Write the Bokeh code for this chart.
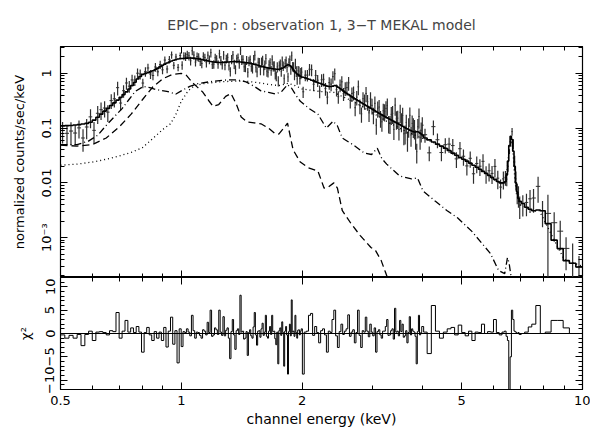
import math
from bokeh.plotting import figure
from bokeh.models import FixedTicker, LogAxis, LinearAxis, Range1d, Span, ColumnDataSource
from bokeh.layouts import column
from bokeh.embed import file_html
from bokeh.resources import INLINE

FONT = "DejaVu Sans"

# ---------------- channel energies (keV), by segment ----------------
E_A = [0.506, 0.519, 0.531, 0.544, 0.556, 0.569, 0.581, 0.594, 0.606, 0.619, 0.631, 0.644, 0.656, 0.669, 0.681, 0.694]
E_B = [0.706, 0.718, 0.730, 0.742, 0.754, 0.766, 0.778, 0.790, 0.802, 0.814, 0.826, 0.838, 0.850, 0.862, 0.874,
       0.886, 0.898, 0.910, 0.922, 0.934, 0.946, 0.958, 0.970, 0.982, 0.994]
E_C = [1.005, 1.015, 1.025, 1.035, 1.045, 1.055, 1.065, 1.075, 1.085, 1.095,
       1.105, 1.115, 1.125, 1.135, 1.145, 1.155, 1.165, 1.175, 1.185, 1.195,
       1.205, 1.215, 1.225, 1.235, 1.245, 1.255, 1.265, 1.275, 1.285, 1.295,
       1.305, 1.315, 1.325, 1.335, 1.345, 1.355, 1.365, 1.375, 1.385, 1.395,
       1.405, 1.415, 1.425, 1.435, 1.445, 1.455, 1.465, 1.475, 1.485, 1.495,
       1.505, 1.515, 1.525, 1.535, 1.545, 1.555, 1.565, 1.575, 1.585, 1.595,
       1.605, 1.615, 1.625, 1.635, 1.645, 1.655, 1.665, 1.675, 1.685, 1.695,
       1.705, 1.715, 1.725, 1.735, 1.745, 1.755, 1.765, 1.775, 1.785, 1.795,
       1.805, 1.815, 1.825, 1.835, 1.845, 1.855, 1.865, 1.875, 1.885, 1.895,
       1.905, 1.915, 1.925, 1.935, 1.945, 1.955, 1.965, 1.975, 1.985, 1.995]
E_D = [2.0125, 2.0375, 2.0625, 2.0875, 2.1125, 2.1375, 2.1625, 2.1875, 2.2125, 2.2375,
       2.2625, 2.2875, 2.3125, 2.3375, 2.3625, 2.3875, 2.4125, 2.4375, 2.4625, 2.4875,
       2.5125, 2.5375, 2.5625, 2.5875, 2.6125, 2.6375, 2.6625, 2.6875, 2.7125, 2.7375,
       2.7625, 2.7875, 2.8125, 2.8375, 2.8625, 2.8875, 2.9125, 2.9375, 2.9625, 2.9875,
       3.0125, 3.0375, 3.0625, 3.0875, 3.1125, 3.1375, 3.1625, 3.1875, 3.2125, 3.2375,
       3.2625, 3.2875, 3.3125, 3.3375, 3.3625, 3.3875, 3.4125, 3.4375, 3.4625, 3.4875,
       3.5125, 3.5375, 3.5625, 3.5875, 3.6125, 3.6375, 3.6625, 3.6875, 3.7125, 3.7375,
       3.7625, 3.7875, 3.8125, 3.8375, 3.8625, 3.8875, 3.9125, 3.9375, 3.9625, 3.9875]
E_E = [4.05, 4.15, 4.25, 4.35, 4.45, 4.55, 4.65, 4.75, 4.85, 4.95, 5.05, 5.15, 5.25, 5.35, 5.45, 5.55, 5.65, 5.75,
       5.85, 5.95, 6.05, 6.15, 6.25, 6.35]
E_F = [6.425, 6.475, 6.525, 6.575, 6.625, 6.675, 6.725, 6.775, 6.825, 6.875, 6.925, 6.975]
E_G = [7.1, 7.25, 7.4, 7.55, 7.75, 7.95, 8.2, 8.5, 8.8, 9.1, 9.45, 9.8]

# ---------------- total model (normalized counts/sec/keV) per channel ----------------
M_A = [0.110, 0.111, 0.112, 0.114, 0.116, 0.119, 0.122, 0.128, 0.140, 0.158, 0.180, 0.205, 0.230, 0.260, 0.290, 0.325]
M_B = [0.365, 0.41, 0.46, 0.52, 0.60, 0.69, 0.79, 0.88, 0.96, 1.00, 1.03, 1.07, 1.12, 1.18, 1.25, 1.33, 1.41, 1.48,
       1.55, 1.62, 1.68, 1.74, 1.79, 1.83, 1.86]
M_C = [1.87, 1.89, 1.90, 1.90, 1.91, 1.91, 1.90, 1.90, 1.88, 1.86,
       1.84, 1.82, 1.79, 1.77, 1.74, 1.72, 1.69, 1.67, 1.65, 1.63,
       1.62, 1.61, 1.60, 1.59, 1.58, 1.58, 1.59, 1.59, 1.60, 1.61,
       1.62, 1.62, 1.63, 1.63, 1.64, 1.64, 1.64, 1.64, 1.63, 1.63,
       1.62, 1.61, 1.60, 1.59, 1.58, 1.57, 1.56, 1.55, 1.53, 1.52,
       1.50, 1.48, 1.46, 1.44, 1.42, 1.40, 1.38, 1.36, 1.34, 1.33,
       1.31, 1.30, 1.28, 1.27, 1.26, 1.25, 1.24, 1.23, 1.22, 1.21,
       1.20, 1.20, 1.19, 1.19, 1.19, 1.19, 1.20, 1.22, 1.24, 1.27,
       1.30, 1.34, 1.38, 1.41, 1.44, 1.43, 1.40, 1.35, 1.29, 1.22,
       1.16, 1.10, 1.05, 1.01, 0.97, 0.95, 0.92, 0.90, 0.88, 0.86]
M_D = [0.85, 0.83, 0.80, 0.78, 0.75, 0.73, 0.70, 0.68, 0.66, 0.64,
       0.62, 0.60, 0.585, 0.575, 0.575, 0.585, 0.60, 0.59, 0.56, 0.53,
       0.50, 0.475, 0.45, 0.43, 0.41, 0.39, 0.373, 0.357, 0.342, 0.328,
       0.316, 0.304, 0.291, 0.279, 0.270, 0.260, 0.250, 0.240, 0.232, 0.224,
       0.216, 0.208, 0.200, 0.193, 0.187, 0.181, 0.175, 0.169, 0.164, 0.159,
       0.154, 0.149, 0.145, 0.141, 0.137, 0.133, 0.129, 0.125, 0.122, 0.118,
       0.115, 0.111, 0.108, 0.105, 0.102, 0.099, 0.097, 0.094, 0.092, 0.090,
       0.088, 0.086, 0.085, 0.085, 0.086, 0.086, 0.084, 0.081, 0.078, 0.075]
M_E = [0.066, 0.061, 0.056, 0.051, 0.047, 0.043, 0.039, 0.035, 0.032, 0.029, 0.027, 0.025, 0.023, 0.021, 0.0193,
       0.0177, 0.0162, 0.0149, 0.0137, 0.0126, 0.0116, 0.0106, 0.0100, 0.0100]
M_F = [0.0105, 0.014, 0.025, 0.048, 0.071, 0.062, 0.038, 0.020, 0.010, 0.0068, 0.0052, 0.0046]
M_G = [0.0042, 0.0036, 0.0033, 0.0031, 0.0032, 0.0031, 0.0018, 0.0009, 0.00063, 0.00038, 0.00034, 0.00029]

# ---------------- residuals: sign(data-model) * chi^2 per channel ----------------
C_A = [-0.3, -1.0, -0.4, -1.0, -0.2, -2.6, -0.2, 0.5, -1.5, 0.3, 0.4, 0.2, -0.3, 0.6, 0.4, 4.5]
C_B = [-1.0, 0.5, 2.8, 0.3, 1.2, 0.2, 1.5, 0.3, -4.0, 0.2, 1.3, -0.3, -1.5, 0.4, -1.0, 0.3, -1.5, 1.3, -2.9, 0.5,
       3.5, -2.3, 0.6, -6.3, 1.0]
C_C = [-2.8, 0.4, 0.2, 1.0, 0.3, -0.5, 3.9, 0.6, -1.0, 0.3,
       0.2, -0.4, -1.0, 0.8, 0.5, -0.3, 2.4, 0.2, 5.0, -0.6,
       -0.3, 1.2, 0.8, -0.2, 5.0, 0.3, -0.4, 3.6, -0.5, 0.7,
       1.2, -1.0, -5.4, 0.4, 3.0, -0.3, -3.4, 0.6, 1.0, -0.2,
       8.2, 0.3, 0.5, -1.2, -1.0, 0.4, -4.7, 0.2, 0.8, -0.5,
       -1.0, 1.4, 4.5, -0.3, -2.5, 0.5, 0.6, -0.8, 1.0, 2.2,
       -0.4, 0.3, 3.9, -0.6, -1.0, 0.5, 1.5, -0.2, 3.9, 0.4,
       0.5, -1.1, -2.4, 0.3, -6.5, 0.6, 1.2, -0.4, 2.5, 0.2,
       -7.0, 0.5, 1.5, -0.3, -8.7, 0.4, 2.0, -0.5, 7.2, 0.3,
       0.5, -0.6, 3.9, 0.2, -1.0, 0.7, 0.8, -0.3, 0.5, 1.0]
C_D = [-8.7, 0.3, 0.5, 3.9, 4.3, -0.4, 1.5, 0.2, -2.0, 0.6,
       1.0, -0.3, -4.0, 0.5, 0.2, 3.0, 5.0, -0.5, -3.0, 0.4,
       2.0, -0.2, 0.5, 1.0, 4.0, -0.6, 0.3, 0.8, -2.0, 0.2,
       5.0, -0.4, -3.0, 0.6, 0.3, 3.5, 0.5, -0.7, 2.0, 0.3,
       -0.5, 1.2, -4.0, 0.4, 0.8, -0.3, -1.0, 0.5, 0.5, 1.5,
       3.0, -0.4, -0.3, 0.6, 1.0, -1.2, 5.4, 0.3, 0.5, -0.5,
       2.8, 0.4, 2.0, -0.8, -0.5, 0.6, -2.0, 0.2, 3.6, -0.3,
       1.0, 0.5, 0.3, -0.6, -6.5, 0.4, 3.9, -0.3, 0.2, 1.5]
C_E = [0.3, -4.3, 6.0, 0.5, -1.0, 0.3, 1.0, 1.3, -0.3, 1.8, 0.2, -0.5, 0.5, -1.5, 0.3, 0.2, 2.0, 0.0, 0.4, 0.3,
       3.0, 0.2, -0.3, 0.3]
C_F = [0.5, -0.6, -1.5, -12.0, -5.0, 5.0, 3.0, 0.5, 0.3, 0.0, 0.2, -0.2]
C_G = [0.0, 0.3, 1.4, 2.0, 6.0, 0.0, 0.3, 2.8, 2.8, 1.2, 0.0, 0.0]

# ---------------- relative 1-sigma error per channel ----------------
R_A = [0.42, 0.38, 0.45, 0.40, 0.36, 0.44, 0.40, 0.38, 0.42, 0.36, 0.35, 0.33, 0.34, 0.30, 0.31, 0.28]
R_B = [0.27, 0.26, 0.25, 0.24, 0.24, 0.22, 0.22, 0.21, 0.20, 0.20, 0.19, 0.19, 0.18, 0.18, 0.17, 0.17, 0.17, 0.16,
       0.16, 0.16, 0.15, 0.15, 0.15, 0.15, 0.14]
R_C = [0.18, 0.17, 0.18, 0.17, 0.18, 0.18, 0.17, 0.18, 0.17, 0.18,
       0.18, 0.17, 0.18, 0.18, 0.17, 0.18, 0.17, 0.18, 0.18, 0.17,
       0.18, 0.18, 0.17, 0.18, 0.18, 0.19, 0.18, 0.18, 0.19, 0.18,
       0.19, 0.18, 0.19, 0.19, 0.18, 0.19, 0.19, 0.18, 0.19, 0.19,
       0.19, 0.20, 0.19, 0.19, 0.20, 0.19, 0.20, 0.20, 0.19, 0.20,
       0.20, 0.19, 0.20, 0.20, 0.20, 0.21, 0.20, 0.20, 0.21, 0.20,
       0.21, 0.20, 0.21, 0.21, 0.20, 0.21, 0.21, 0.20, 0.21, 0.21,
       0.21, 0.21, 0.20, 0.21, 0.21, 0.21, 0.21, 0.20, 0.21, 0.20,
       0.20, 0.20, 0.19, 0.19, 0.19, 0.19, 0.19, 0.20, 0.20, 0.20,
       0.21, 0.21, 0.21, 0.22, 0.22, 0.22, 0.22, 0.22, 0.23, 0.23]
R_D = [0.23, 0.23, 0.24, 0.24, 0.24, 0.25, 0.25, 0.25, 0.26, 0.26,
       0.26, 0.26, 0.26, 0.26, 0.26, 0.26, 0.25, 0.25, 0.26, 0.26,
       0.27, 0.27, 0.28, 0.28, 0.28, 0.29, 0.29, 0.29, 0.30, 0.30,
       0.30, 0.30, 0.31, 0.31, 0.31, 0.31, 0.32, 0.32, 0.32, 0.32,
       0.33, 0.33, 0.33, 0.33, 0.34, 0.34, 0.34, 0.34, 0.35, 0.35,
       0.35, 0.35, 0.36, 0.36, 0.36, 0.36, 0.36, 0.37, 0.37, 0.37,
       0.37, 0.38, 0.38, 0.38, 0.38, 0.38, 0.39, 0.39, 0.39, 0.39,
       0.39, 0.39, 0.39, 0.39, 0.39, 0.39, 0.40, 0.40, 0.40, 0.40]
R_E = [0.29, 0.30, 0.30, 0.30, 0.31, 0.31, 0.31, 0.32, 0.32, 0.32, 0.33, 0.33, 0.33, 0.34, 0.34, 0.34, 0.35, 0.35,
       0.36, 0.36, 0.37, 0.37, 0.38, 0.36]
R_F = [0.30, 0.26, 0.20, 0.08, 0.14, 0.16, 0.20, 0.30, 0.36, 0.40, 0.42, 0.44]
R_G = [0.42, 0.44, 0.45, 0.46, 0.50, 0.50, 1.2, 0.55, 0.55, 0.6, 1.3, 0.6]

# ---------------- model components ----------------
COOL_E = [0.50, 0.55, 0.60, 0.65, 0.70, 0.75, 0.80, 0.85, 0.90, 0.95, 1.00, 1.03, 1.07, 1.10, 1.13, 1.17, 1.20,
          1.24, 1.29, 1.33, 1.37, 1.41, 1.46, 1.52, 1.58, 1.65, 1.71, 1.75, 1.80, 1.84, 1.87, 1.90, 1.98, 2.07,
          2.19, 2.27, 2.33, 2.40, 2.45, 2.52, 2.65, 2.79, 2.97, 3.05, 3.15, 3.23, 3.30]
COOL_V = [0.049, 0.047, 0.050, 0.066, 0.105, 0.18, 0.33, 0.57, 0.80, 0.96, 1.00, 0.92, 0.66, 0.55, 0.46, 0.32,
          0.25, 0.27, 0.38, 0.43, 0.28, 0.16, 0.13, 0.125, 0.12, 0.10, 0.08, 0.078, 0.10, 0.123, 0.07, 0.04,
          0.024, 0.019, 0.0165, 0.008, 0.0085, 0.010, 0.008, 0.0031, 0.0018, 0.0011, 0.00066, 0.00058, 0.00038,
          0.00023, 0.00015]
MID_E = [0.50, 0.55, 0.587, 0.62, 0.647, 0.68, 0.713, 0.74, 0.768, 0.805, 0.835, 0.863, 0.89, 0.92, 0.97, 1.01,
         1.05, 1.10, 1.20, 1.30, 1.38, 1.45, 1.52, 1.58, 1.65, 1.72, 1.78, 1.84, 1.88, 1.93, 1.98, 2.08, 2.19,
         2.30, 2.39, 2.45, 2.52, 2.70, 2.86, 2.98, 3.08, 3.16, 3.25, 3.50, 3.75, 3.88, 4.00, 4.30, 4.60, 4.88,
         5.30, 5.90, 6.18, 6.40, 6.50, 6.56, 6.62, 6.70]
MID_V = [0.050, 0.050, 0.058, 0.075, 0.108, 0.16, 0.23, 0.33, 0.47, 0.58, 0.55, 0.51, 0.49, 0.47, 0.42, 0.50,
         0.58, 0.65, 0.72, 0.76, 0.76, 0.70, 0.58, 0.48, 0.45, 0.42, 0.47, 0.62, 0.55, 0.40, 0.31, 0.23, 0.18,
         0.10, 0.134, 0.11, 0.066, 0.048, 0.035, 0.033, 0.043, 0.028, 0.022, 0.0134, 0.0118, 0.0123, 0.0072,
         0.0046, 0.0031, 0.0023, 0.0013, 0.00051, 0.00025, 0.00022, 0.00043, 0.00035, 0.00022, 0.00012]
HOT_E = [0.50, 0.55, 0.60, 0.65, 0.70, 0.75, 0.80, 0.85, 0.90, 0.94, 0.97, 1.00, 1.04, 1.08, 1.15, 1.25, 1.35,
         1.45, 1.55, 1.65, 1.75, 1.85, 1.92, 2.00, 2.20, 2.40, 2.50, 2.70, 3.00, 3.30, 3.60, 3.90, 4.20, 4.60,
         5.00, 5.50, 6.00, 6.30, 6.45, 6.55, 6.62, 6.70, 6.78, 6.85, 7.00, 7.50, 7.80, 8.00, 8.50, 9.00, 10.0]
HOT_V = [0.021, 0.022, 0.024, 0.027, 0.031, 0.036, 0.044, 0.065, 0.095, 0.12, 0.18, 0.31, 0.48, 0.60, 0.66, 0.70,
         0.72, 0.72, 0.68, 0.63, 0.60, 0.66, 0.60, 0.52, 0.47, 0.45, 0.39, 0.30, 0.19, 0.125, 0.09, 0.07, 0.057,
         0.042, 0.029, 0.019, 0.0115, 0.0097, 0.011, 0.035, 0.066, 0.045, 0.012, 0.006, 0.0040, 0.0031, 0.0031,
         0.0022, 0.0009, 0.0004, 0.0003]

X_TICKS = [0.5, 1, 2, 5, 10]
X_LABELS = ["0.5", "1", "2", "5", "10"]
X_MINOR = [0.6, 0.7, 0.8, 0.9, 3, 4, 6, 7, 8, 9]
Y_TICKS = [1e-3, 1e-2, 1e-1, 1]
Y_LABELS = ["10\u207b\u00b3", "0.01", "0.1", "1"]
C_TICKS = [-10, -5, 0, 5, 10]
C_LABELS = ["\u221210", "\u22125", "0", "5", "10"]

energy = E_A + E_B + E_C + E_D + E_E + E_F + E_G
model = M_A + M_B + M_C + M_D + M_E + M_F + M_G
chi = C_A + C_B + C_C + C_D + C_E + C_F + C_G
rel = R_A + R_B + R_C + R_D + R_E + R_F + R_G

# channel edges (midpoints between channel centres)
mids = [(a + b) / 2 for a, b in zip(energy[:-1], energy[1:])]
edges = [energy[0] - (mids[0] - energy[0])] + mids + [energy[-1] + (energy[-1] - mids[-1])]

# data point = model shifted by its residual (in units of its error)
data = [m * (1 + r) ** math.copysign(math.sqrt(abs(c)), c) for m, c, r in zip(model, chi, rel)]
lo = [max(d * (1 - r), 1e-6) for d, r in zip(data, rel)]
hi = [d * (1 + r) for d, r in zip(data, rel)]

src = ColumnDataSource(dict(x=energy, y=data, x0=edges[:-1], x1=edges[1:], lo=lo, hi=hi))


def steps(vals):
    xs, ys = [], []
    for i, v in enumerate(vals):
        xs += [edges[i], edges[i + 1]]
        ys += [v, v]
    return xs, ys


mx, my = steps(model)
cx, cy = steps(chi)


def style_axis(ax, show, orient=None, standoff=6, size="13px"):
    ax.axis_line_color = None
    ax.major_tick_in = 7
    ax.major_tick_out = 0
    ax.minor_tick_in = 4
    ax.minor_tick_out = 0
    ax.major_tick_line_color = "black"
    ax.minor_tick_line_color = "black"
    ax.major_label_text_font = FONT
    if show:
        ax.major_label_text_font_size = "13px"
        ax.major_label_text_color = "black"
        ax.major_label_standoff = standoff
        ax.axis_label_text_font = FONT
        ax.axis_label_text_font_size = size
        ax.axis_label_text_font_style = "normal"
        ax.axis_label_text_color = "black"
    else:
        ax.major_label_text_font_size = "1px"
        ax.major_label_text_alpha = 0
        ax.major_label_standoff = 0
    if orient is not None:
        ax.major_label_orientation = orient


def xticker():
    return FixedTicker(ticks=X_TICKS, minor_ticks=X_MINOR)


ymin_ticks = [k * 10.0 ** d for d in (-4, -3, -2, -1, 0) for k in range(2, 10)]


def yticker():
    return FixedTicker(ticks=Y_TICKS, minor_ticks=ymin_ticks)


def cticker():
    return FixedTicker(ticks=C_TICKS, minor_ticks=list(range(-12, 13)))


xr = Range1d(0.5, 10)

p1 = figure(width=590, height=277, x_axis_type="log", y_axis_type="log", x_range=xr,
            y_range=Range1d(1.87e-4, 3.1), output_backend="svg", toolbar_location=None,
            x_axis_location=None, y_axis_location=None,
            min_border_left=60, min_border_right=8, min_border_top=45, min_border_bottom=0)
p1.grid.visible = False
p1.outline_line_color = "black"
p1.outline_line_width = 1.2
p1.title.text = "EPIC\u2212pn : observation 1, 3\u2212T MEKAL model"
p1.title.align = "center"
p1.title.text_font = FONT
p1.title.text_font_size = "14px"
p1.title.text_font_style = "normal"
p1.title.standoff = 28

ax = LogAxis(ticker=yticker(), axis_label="normalized counts/sec/keV")
style_axis(ax, True, "vertical")
ax.major_label_overrides = {t: l for t, l in zip(Y_TICKS, Y_LABELS)}
ax.axis_label_standoff = 10
p1.add_layout(ax, "left")
ax = LogAxis(ticker=yticker())
style_axis(ax, False)
p1.add_layout(ax, "right")
ax = LogAxis(ticker=xticker())
style_axis(ax, False)
p1.add_layout(ax, "above")
ax = LogAxis(ticker=xticker())
style_axis(ax, False)
p1.add_layout(ax, "below")

# data crosses
p1.segment(x0="x0", y0="y", x1="x1", y1="y", source=src, line_color="#2e2e2e", line_width=1)
p1.segment(x0="x", y0="lo", x1="x", y1="hi", source=src, line_color="#2e2e2e", line_width=1.2)
# components
p1.line(COOL_E, COOL_V, line_color="black", line_width=1.3, line_dash="7 4")
p1.line(MID_E, MID_V, line_color="black", line_width=1.3, line_dash="7 3 1 3")
p1.line(HOT_E, HOT_V, line_color="black", line_width=1.3, line_dash="1 3")
# total model
p1.line(mx, my, line_color="black", line_width=1.6)

p2 = figure(width=590, height=155, x_axis_type="log", x_range=xr, y_range=Range1d(-12, 12),
            output_backend="svg", toolbar_location=None,
            x_axis_location=None, y_axis_location=None,
            min_border_left=60, min_border_right=8, min_border_top=0, min_border_bottom=43)
p2.grid.visible = False
p2.outline_line_color = "black"
p2.outline_line_width = 1.2

ax = LinearAxis(ticker=cticker(), axis_label="\u03c7\u00b2")
style_axis(ax, True, "vertical")
ax.major_label_overrides = {t: l for t, l in zip(C_TICKS, C_LABELS)}
ax.axis_label_standoff = 10
p2.add_layout(ax, "left")
ax = LinearAxis(ticker=cticker())
style_axis(ax, False)
p2.add_layout(ax, "right")
ax = LogAxis(ticker=xticker())
style_axis(ax, False)
p2.add_layout(ax, "above")
ax = LogAxis(ticker=xticker(), axis_label="channel energy (keV)")
style_axis(ax, True, standoff=6, size="14px")
ax.major_label_overrides = {t: l for t, l in zip(X_TICKS, X_LABELS)}
ax.axis_label_standoff = 3
p2.add_layout(ax, "below")

p2.add_layout(Span(location=0, dimension="width", line_color="black", line_width=1))
p2.line(cx, cy, line_color="black", line_width=1)

layout = column(p1, p2, spacing=0)
open("out.html", "w").write(file_html(layout, INLINE))
